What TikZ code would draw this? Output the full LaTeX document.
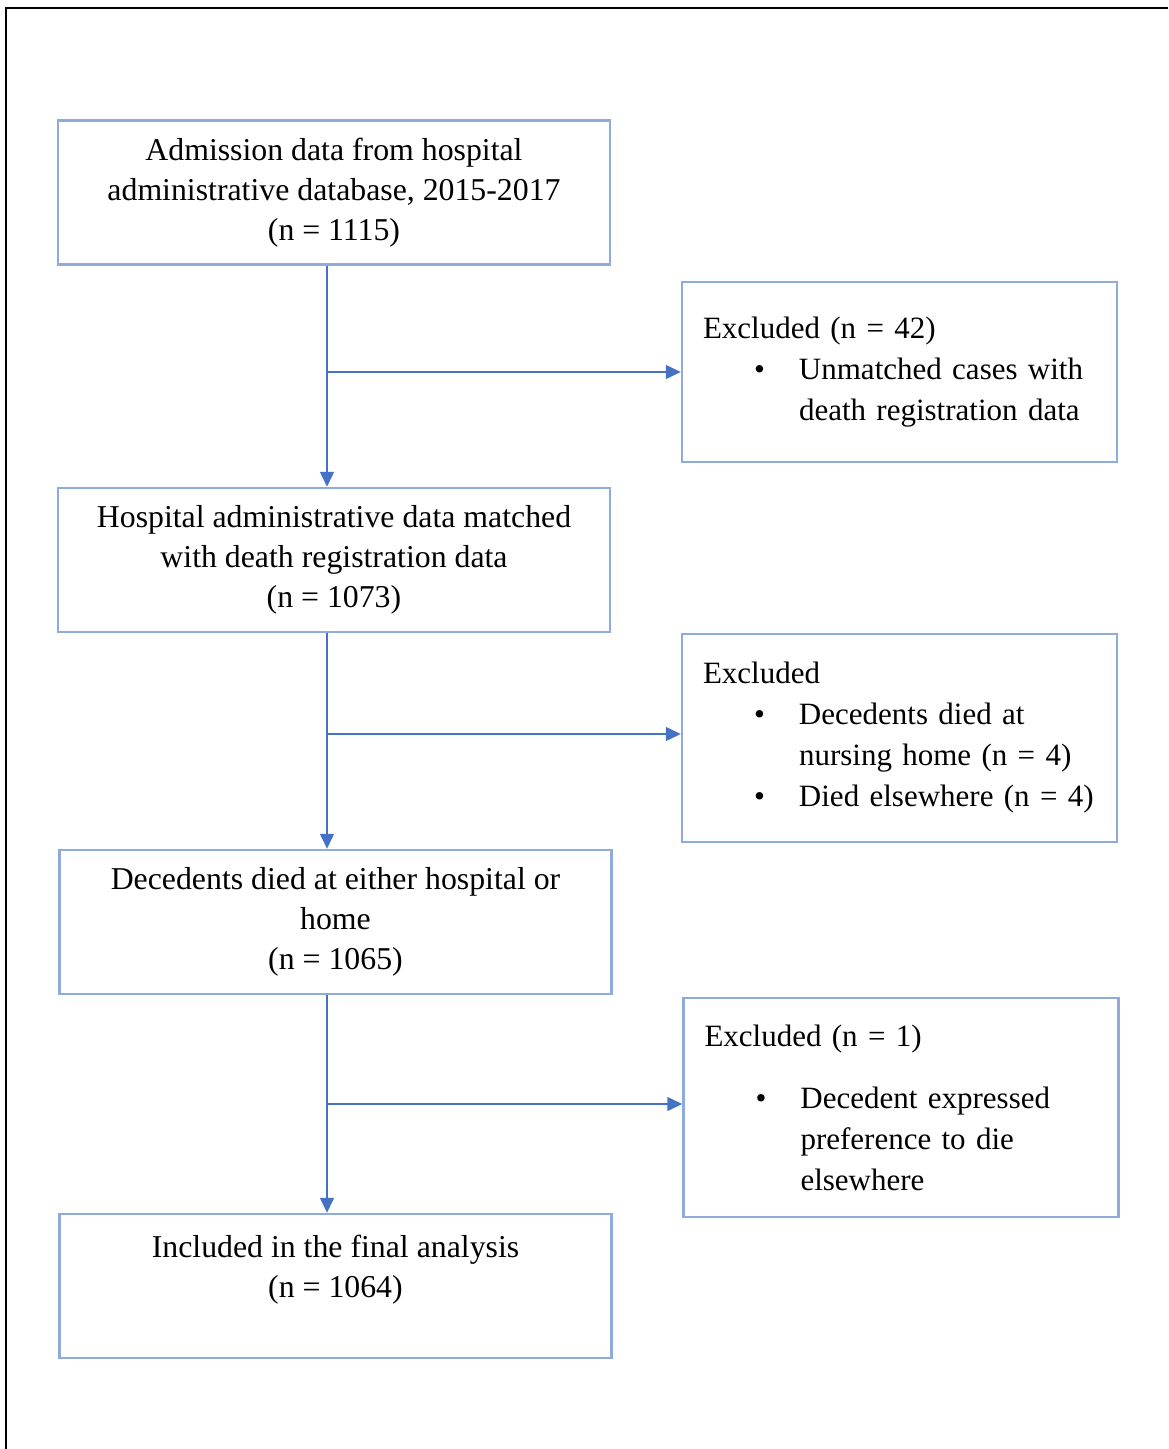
\documentclass[tikz,border=0pt]{standalone}
\usepackage{fontspec}
\setmainfont{Liberation Serif}
\usetikzlibrary{arrows.meta}
\definecolor{boxblue}{RGB}{143,170,220}
\definecolor{lineblue}{RGB}{68,114,196}
\newcommand{\bul}[1]{\mbox{\hspace*{25.5pt}\makebox[22.5pt][l]{\textbullet}#1}}
\newcommand{\cont}[1]{\mbox{\hspace*{48pt}#1}}

\begin{document}
\begin{tikzpicture}[x=0.5pt,y=-0.5pt,
        box/.style={draw=boxblue, line width=1.25pt, minimum width=276pt, minimum height=72pt,
          inner ysep=0pt, align=center, font=\fontsize{15.9pt}{20pt}\selectfont},
        exbox/.style={draw=boxblue, line width=1.25pt, text width=196.5pt, inner xsep=10.5pt,
          inner ysep=0pt, align=left, font=\fontsize{15.5pt}{20.5pt}\selectfont},
        arr/.style={draw=lineblue, line width=0.75pt, -{Triangle[length=7.5pt,width=7pt]}}]
        \useasboundingbox (0,0) rectangle (1168,1449);
        \draw [line width=1pt] (6,1449) -- (6,8) -- (1168,8); % Page frame.
        \coordinate (trunk) at (327,0);
        \node [box] (adm) at (334,192.5) {Admission data from hospital\\administrative database, 2015-2017\\(n = 1115)};
        \node [box] (match) at (334,560) {Hospital administrative data matched\\with death registration data\\(n = 1073)};
        \node [box] (died) at (335.5,922) {Decedents died at either hospital or\\home\\(n = 1065)};
        \node [box] (final) at (335.5,1286) {Included in the final analysis\\(n = 1064)\\\mbox{}};
        \node [exbox, minimum height=90pt] (exa) at (899.5,372) {\mbox{Excluded (n = 42)}\\\bul{Unmatched cases with}\\\cont{death registration data}};
        \node [exbox, minimum height=104pt] (exb) at (899.5,738) {Excluded\\\bul{Decedents died at}\\\cont{nursing home (n = 4)}\\\bul{Died elsewhere (n = 4)}};
        \node [exbox, minimum height=109.5pt] (exc) at (901,1107.5) {\mbox{Excluded (n = 1)}\\[10.5pt]\bul{Decedent expressed}\\\cont{preference to die}\\\cont{elsewhere}};
        \draw [arr] (adm.south -| trunk) -- (match.north -| trunk);
        \draw [arr] (match.south -| trunk) -- (died.north -| trunk);
        \draw [arr] (died.south -| trunk) -- (final.north -| trunk);
        \draw [arr] (exa.west -| trunk) -- (exa.west); % Branches to the excluded boxes.
        \draw [arr] ([yshift=2pt]exb.west -| trunk) -- ([yshift=2pt]exb.west);
        \draw [arr] ([yshift=1.75pt]exc.west -| trunk) -- ([yshift=1.75pt]exc.west);
\end{tikzpicture}
\end{document}
